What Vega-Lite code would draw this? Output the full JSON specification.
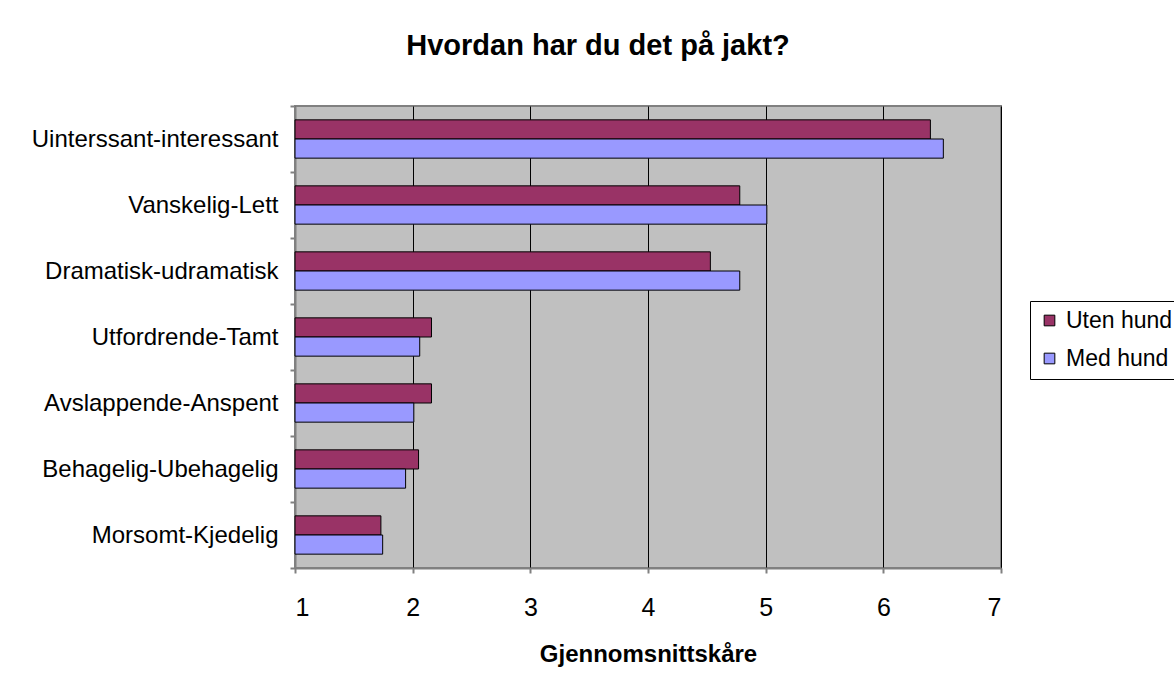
{
  "$schema": "https://vega.github.io/schema/vega-lite/v6.json",
  "autosize": "none",
  "width": 706,
  "height": 462,
  "padding": {"left": 295, "top": 106, "right": 173, "bottom": 116},
  "background": "white",
  "title": {
    "text": "Hvordan har du det på jakt?",
    "anchor": "middle",
    "dx": -50,
    "offset": 10,
    "baseline": "alphabetic",
    "font": "Liberation Sans",
    "fontSize": 29,
    "fontWeight": "bold",
    "color": "#000000"
  },
  "config": {
    "view": {"fill": "#C0C0C0", "stroke": "#808080", "strokeWidth": 2},
    "font": "Liberation Sans"
  },
  "data": {
    "values": [
      {"kategori": "Uinterssant-interessant", "gruppe": "Uten hund", "verdi": 6.40},
      {"kategori": "Uinterssant-interessant", "gruppe": "Med hund", "verdi": 6.51},
      {"kategori": "Vanskelig-Lett", "gruppe": "Uten hund", "verdi": 4.78},
      {"kategori": "Vanskelig-Lett", "gruppe": "Med hund", "verdi": 5.01},
      {"kategori": "Dramatisk-udramatisk", "gruppe": "Uten hund", "verdi": 4.53},
      {"kategori": "Dramatisk-udramatisk", "gruppe": "Med hund", "verdi": 4.78},
      {"kategori": "Utfordrende-Tamt", "gruppe": "Uten hund", "verdi": 2.16},
      {"kategori": "Utfordrende-Tamt", "gruppe": "Med hund", "verdi": 2.06},
      {"kategori": "Avslappende-Anspent", "gruppe": "Uten hund", "verdi": 2.16},
      {"kategori": "Avslappende-Anspent", "gruppe": "Med hund", "verdi": 2.01},
      {"kategori": "Behagelig-Ubehagelig", "gruppe": "Uten hund", "verdi": 2.05},
      {"kategori": "Behagelig-Ubehagelig", "gruppe": "Med hund", "verdi": 1.94},
      {"kategori": "Morsomt-Kjedelig", "gruppe": "Uten hund", "verdi": 1.73},
      {"kategori": "Morsomt-Kjedelig", "gruppe": "Med hund", "verdi": 1.745}
    ]
  },
  "mark": {"type": "bar", "stroke": "#000000", "strokeWidth": 1},
  "encoding": {
    "y": {
      "field": "kategori",
      "type": "nominal",
      "sort": ["Uinterssant-interessant", "Vanskelig-Lett", "Dramatisk-udramatisk", "Utfordrende-Tamt", "Avslappende-Anspent", "Behagelig-Ubehagelig", "Morsomt-Kjedelig"],
      "scale": {"paddingInner": 0, "paddingOuter": 0},
      "axis": {
        "title": null,
        "tickBand": "extent",
        "tickSize": 5,
        "tickColor": "#808080",
        "tickWidth": 2,
        "domainColor": "#808080",
        "domainWidth": 2,
        "labelFontSize": 24,
        "labelColor": "#000000",
        "labelPadding": 12,
        "labelLimit": 400,
        "grid": false
      }
    },
    "yOffset": {
      "field": "gruppe",
      "type": "nominal",
      "sort": ["Uten hund", "Med hund"],
      "scale": {"paddingInner": 0, "paddingOuter": 0.723}
    },
    "x": {
      "field": "verdi",
      "type": "quantitative",
      "scale": {"domain": [1, 7], "nice": false, "zero": false},
      "axis": {
        "title": "Gjennomsnittskåre",
        "titleFontSize": 24,
        "titleFontWeight": "bold",
        "titleColor": "#000000",
        "titlePadding": 22,
        "values": [1, 2, 3, 4, 5, 6, 7],
        "format": "d",
        "grid": true,
        "gridColor": "#000000",
        "gridWidth": 1,
        "gridOpacity": 1,
        "tickSize": 5,
        "tickColor": "#808080",
        "tickWidth": 2,
        "domainColor": "#808080",
        "domainWidth": 2,
        "labelFontSize": 25,
        "labelColor": "#000000",
        "labelPadding": 22
      }
    },
    "x2": {"datum": 1},
    "fill": {
      "field": "gruppe",
      "type": "nominal",
      "sort": ["Uten hund", "Med hund"],
      "scale": {"domain": ["Uten hund", "Med hund"], "range": ["#993366", "#9999FF"]},
      "legend": {
        "title": null,
        "orient": "none",
        "legendX": 735,
        "legendY": 195,
        "fillColor": "#FFFFFF",
        "strokeColor": "#000000",
        "padding": 8,
        "symbolType": "square",
        "symbolSize": 114,
        "symbolStrokeColor": "#000000",
        "symbolStrokeWidth": 1,
        "symbolOpacity": 1,
        "labelFontSize": 23,
        "labelColor": "#000000",
        "labelOffset": 5,
        "labelLimit": 300,
        "rowPadding": 14
      }
    }
  }
}
